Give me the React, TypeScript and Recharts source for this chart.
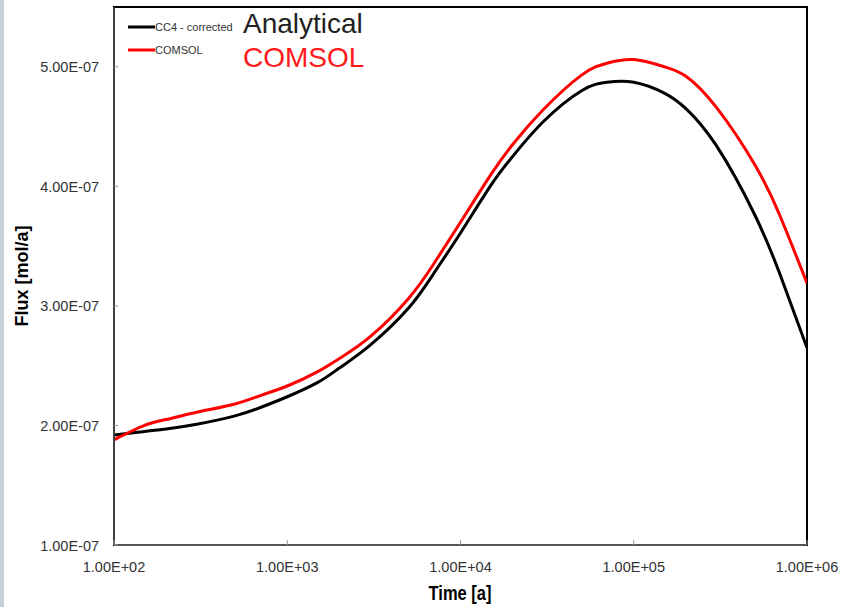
import { LineChart, Line, XAxis, YAxis, ReferenceArea } from "recharts";

const times = [100, 150, 200, 300, 500, 700, 1000, 1500, 2000, 3000, 5000, 7000, 10000, 15000, 20000, 30000, 50000, 70000, 100000, 150000, 200000, 300000, 500000, 700000, 1000000];
const analyticalFlux = [1.92e-7, 1.95e-7, 1.97e-7, 2.01e-7, 2.08e-7, 2.15e-7, 2.24e-7, 2.36e-7, 2.48e-7, 2.67e-7, 2.98e-7, 3.27e-7, 3.61e-7, 4.01e-7, 4.25e-7, 4.54e-7, 4.8e-7, 4.87e-7, 4.87e-7, 4.78e-7, 4.65e-7, 4.34e-7, 3.76e-7, 3.26e-7, 2.65e-7];
const comsolFlux = [1.88e-7, 2.0e-7, 2.05e-7, 2.11e-7, 2.18e-7, 2.25e-7, 2.33e-7, 2.45e-7, 2.56e-7, 2.74e-7, 3.06e-7, 3.35e-7, 3.7e-7, 4.1e-7, 4.35e-7, 4.64e-7, 4.93e-7, 5.03e-7, 5.06e-7, 5.0e-7, 4.92e-7, 4.66e-7, 4.18e-7, 3.75e-7, 3.19e-7];

const xTicks = [100, 1000, 10000, 100000, 1000000];
const yTicks = [1e-7, 2e-7, 3e-7, 4e-7, 5e-7];

const seriesNames = ["CC4 - corrected", "COMSOL"];
const seriesTitles = ["Analytical", "COMSOL"];
const seriesColors = ["#000000", "#ff0000"];

const data = times.map((t, i) => ({ t, analytical: analyticalFlux[i], comsol: comsolFlux[i] }));

const FONT = "'Liberation Sans', Arial, sans-serif";

// excel style: 1.00E+02
function sci(v: number) {
    const [m, e] = v.toExponential(2).split("e");
    const sign = e[0] === "-" ? "-" : "+";
    const digits = e.replace(/^[+-]/, "").padStart(2, "0");
    return `${m}E${sign}${digits}`;
}

const YTick = ({ x, y, payload }: any) => (
    <g>
        <line x1={x} x2={x + 4} y1={y} y2={y} stroke="#999" />
        <text
            transform={`translate(${x - 15},${y + 5.5}) scale(1,1.05)`}
            textAnchor="end"
            fontSize={14.5}
            fontFamily={FONT}
            fill="#333"
        >
            {sci(payload.value)}
        </text>
    </g>
);

const XTick = ({ x, y, payload }: any) => (
    <g>
        <line x1={x} x2={x} y1={y} y2={y - 5} stroke="#999" />
        <text
            transform={`translate(${x},${y + 27}) scale(1,1.05)`}
            textAnchor="middle"
            fontSize={14.5}
            fontFamily={FONT}
            fill="#333"
        >
            {sci(payload.value)}
        </text>
    </g>
);

const YLabel = () => (
    <text
        transform="translate(28,276) rotate(-90)"
        textAnchor="middle"
        fontSize={18}
        fontWeight="bold"
        fontFamily={FONT}
        fill="#000"
    >
        Flux [mol/a]
    </text>
);

const XLabel = () => (
    <text
        transform="translate(460,600) scale(1,1.2)"
        textAnchor="middle"
        fontSize={16.5}
        fontWeight="bold"
        fontFamily={FONT}
        fill="#000"
    >
        Time [a]
    </text>
);

export default function App() {
    return (
        <div style={{ position: "absolute", left: 0, top: 0, width: 842, height: 607, background: "#fff" }}>
            <div style={{ position: "absolute", left: 0, top: 0, width: 4, height: 607, background: "#c7d1d7" }} />
            <LineChart width={842} height={607} data={data} margin={{ top: 7, right: 35, left: 14, bottom: 0 }}>
                <XAxis
                    dataKey="t"
                    type="number"
                    scale="log"
                    domain={[100, 1000000]}
                    ticks={xTicks}
                    allowDataOverflow
                    height={62}
                    tickSize={0}
                    tickMargin={0}
                    tick={<XTick />}
                    axisLine={{ stroke: "#555", strokeWidth: 2 }}
                    tickLine={false}
                    label={<XLabel />}
                />
                <YAxis
                    type="number"
                    domain={[1e-7, 5.5e-7]}
                    ticks={yTicks}
                    allowDataOverflow
                    width={100}
                    tickSize={0}
                    tickMargin={0}
                    tick={<YTick />}
                    axisLine={{ stroke: "#404040", strokeWidth: 2 }}
                    tickLine={false}
                    label={<YLabel />}
                />
                <ReferenceArea x1={100} x2={1000000} y1={1e-7} y2={5.5e-7} fill="none" stroke="#000" strokeWidth={2} />
                <Line type="natural" dataKey="analytical" name={seriesNames[0]} stroke={seriesColors[0]} strokeWidth={3} dot={false} isAnimationActive={false} />
                <Line type="natural" dataKey="comsol" name={seriesNames[1]} stroke={seriesColors[1]} strokeWidth={3} dot={false} isAnimationActive={false} />
            </LineChart>
            {/* legend + big labels, drawn over the plot top-left */}
            <svg width={842} height={90} style={{ position: "absolute", left: 0, top: 0, pointerEvents: "none" }}>
                {seriesNames.map((name, i) => (
                    <g key={name}>
                        <line x1={128} x2={155} y1={27 + i * 23} y2={27 + i * 23} stroke={seriesColors[i]} strokeWidth={3} />
                        <text x={155} y={31 + i * 23} fontSize={11} fontFamily={FONT} fill="#333">
                            {name}
                        </text>
                        <text x={243} y={33 + i * 34} fontSize={28} fontFamily={FONT} fill={i === 0 ? "#222" : "#ff1a1a"}>
                            {seriesTitles[i]}
                        </text>
                    </g>
                ))}
            </svg>
        </div>
    );
}
